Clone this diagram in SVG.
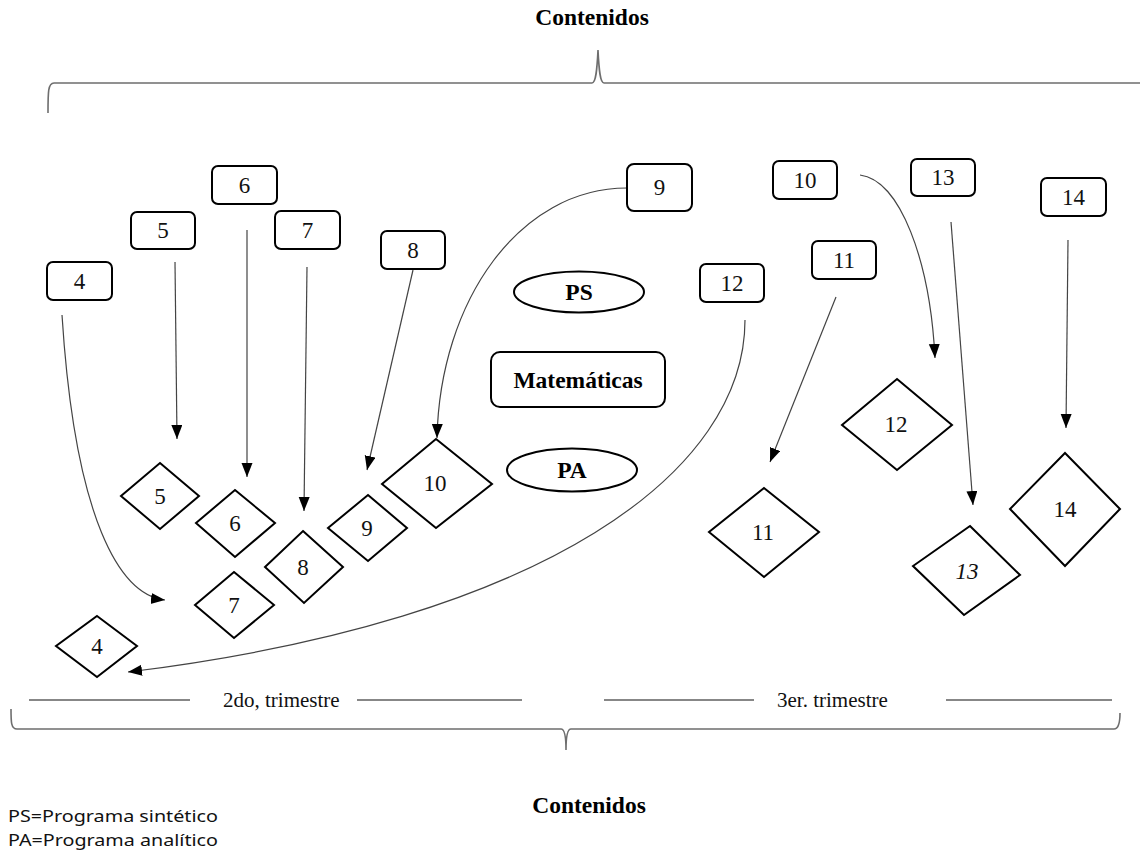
<svg xmlns="http://www.w3.org/2000/svg" width="1140" height="854" viewBox="0 0 1140 854">
  <style>
    .bg { fill: #ffffff; }
    .box { fill: #ffffff; stroke: #000000; stroke-width: 2; }
    .dia { fill: #ffffff; stroke: #000000; stroke-width: 2; }
    .num { font-family: "Liberation Serif", "Times New Roman", serif; font-size: 23px; fill: #111111; text-anchor: middle; }
    .bold { font-family: "Liberation Serif", "Times New Roman", serif; font-size: 23.5px; font-weight: bold; fill: #000000; text-anchor: middle; }
    .plain { font-family: "Liberation Serif", "Times New Roman", serif; font-size: 21px; fill: #111111; }
    .legend { font-family: "Noto Sans", "Open Sans", sans-serif; font-size: 16.5px; fill: #111111; }
    .link { fill: none; stroke: #444444; stroke-width: 1.2; }
    .brace { fill: none; stroke: #6e6e6e; stroke-width: 1.6; }
    .rule { stroke: #111111; stroke-width: 1.2; }
  </style>
  <defs>
    <marker id="arrow" markerUnits="userSpaceOnUse" markerWidth="16" markerHeight="12" refX="14" refY="5.5" orient="auto">
      <path d="M0,0 L14,5.5 L0,11 z" fill="#000000"/>
    </marker>
  </defs>

  <rect class="bg" x="0" y="0" width="1140" height="854"/>

  <!-- header and top brace -->
  <text class="bold" x="592" y="25">Contenidos</text>
  <path class="brace" d="M48,113 C48,92 48,83 54,83 L592,83 C596,83 597,70 598,50 C599,70 600,83 604,83 L1140,83"/>

  <!-- connectors -->
  <g id="connectors">
    <path class="link" d="M62,315 C75,520 120,595 165,600" marker-end="url(#arrow)"/>
    <path class="link" d="M175,262 L177,439" marker-end="url(#arrow)"/>
    <path class="link" d="M247,230 L247,477" marker-end="url(#arrow)"/>
    <path class="link" d="M307,267 L304,511" marker-end="url(#arrow)"/>
    <path class="link" d="M413,270 L367,470" marker-end="url(#arrow)"/>
    <path class="link" d="M627,188 C520,188 440,300 437,438" marker-end="url(#arrow)"/>
    <path class="link" d="M860,175 C900,180 930,260 935,358" marker-end="url(#arrow)"/>
    <path class="link" d="M836,297 L770,462" marker-end="url(#arrow)"/>
    <path class="link" d="M745,320 C745,470 550,620 128,672" marker-end="url(#arrow)"/>
    <path class="link" d="M951,222 L973,505" marker-end="url(#arrow)"/>
    <path class="link" d="M1068,240 L1066,428" marker-end="url(#arrow)"/>
  </g>

  <!-- source boxes -->
  <g id="box4"><rect class="box" x="47" y="262" width="65" height="38" rx="6"/><text class="num" x="79.5" y="289">4</text></g>
  <g id="box5"><rect class="box" x="131" y="212" width="64" height="37" rx="6"/><text class="num" x="163" y="238">5</text></g>
  <g id="box6"><rect class="box" x="212" y="166" width="65" height="38" rx="6"/><text class="num" x="244.5" y="193">6</text></g>
  <g id="box7"><rect class="box" x="275" y="211" width="65" height="38" rx="6"/><text class="num" x="307.5" y="238">7</text></g>
  <g id="box8"><rect class="box" x="381" y="231" width="64" height="38" rx="6"/><text class="num" x="413" y="258">8</text></g>
  <g id="box9"><rect class="box" x="627" y="164" width="65" height="47" rx="7"/><text class="num" x="659.5" y="195">9</text></g>
  <g id="box10"><rect class="box" x="773" y="161" width="64" height="38" rx="6"/><text class="num" x="805" y="188">10</text></g>
  <g id="box11"><rect class="box" x="812" y="241" width="64" height="38" rx="6"/><text class="num" x="844" y="268">11</text></g>
  <g id="box12"><rect class="box" x="700" y="264" width="64" height="38" rx="6"/><text class="num" x="732" y="291">12</text></g>
  <g id="box13"><rect class="box" x="911" y="159" width="64" height="37" rx="6"/><text class="num" x="943" y="185">13</text></g>
  <g id="box14"><rect class="box" x="1041" y="178" width="65" height="38" rx="6"/><text class="num" x="1073.5" y="205">14</text></g>

  <!-- central labels -->
  <g id="ps"><ellipse class="box" cx="579" cy="292" rx="65" ry="20.5"/><text class="bold" x="579" y="300">PS</text></g>
  <g id="matematicas"><rect class="box" x="491" y="352" width="174" height="55" rx="9"/><text class="bold" x="578" y="388">Matemáticas</text></g>
  <g id="pa"><ellipse class="box" cx="572" cy="470" rx="65" ry="21.5"/><text class="bold" x="572" y="478">PA</text></g>

  <!-- target diamonds -->
  <g id="dia4"><polygon class="dia" points="97,616 137,646 97,677 56,646"/><text class="num" x="97" y="654">4</text></g>
  <g id="dia5"><polygon class="dia" points="160,463 199,496 160,529 121,496"/><text class="num" x="160" y="504">5</text></g>
  <g id="dia6"><polygon class="dia" points="235,490 275,523 235,557 196,523"/><text class="num" x="235" y="531">6</text></g>
  <g id="dia7"><polygon class="dia" points="234,572 274,605 234,638 195,605"/><text class="num" x="234" y="613">7</text></g>
  <g id="dia8"><polygon class="dia" points="303,531 343,567 304,603 265,567"/><text class="num" x="303" y="575">8</text></g>
  <g id="dia9"><polygon class="dia" points="368,495 407,528 368,561 328,528"/><text class="num" x="367" y="536">9</text></g>
  <g id="dia10"><polygon class="dia" points="436,439 492,484 436,528 382,484"/><text class="num" x="435" y="491">10</text></g>
  <g id="dia11"><polygon class="dia" points="764,488 819,532 764,577 709,532"/><text class="num" x="763" y="540">11</text></g>
  <g id="dia12"><polygon class="dia" points="897,379 952,425 897,470 842,425"/><text class="num" x="896" y="432">12</text></g>
  <g id="dia13"><polygon class="dia" points="970,526 1020,575 964,615 913,566"/><text class="num" x="967" y="579" font-style="italic">13</text></g>
  <g id="dia14"><polygon class="dia" points="1065,453 1120,509 1065,566 1010,509"/><text class="num" x="1065" y="517">14</text></g>

  <!-- term timeline -->
  <line class="rule" x1="29" y1="700" x2="190" y2="700"/>
  <text class="plain" x="223" y="707">2do, trimestre</text>
  <line class="rule" x1="357" y1="700" x2="522" y2="700"/>
  <line class="rule" x1="604" y1="700" x2="754" y2="700"/>
  <text class="plain" x="777" y="707">3er. trimestre</text>
  <line class="rule" x1="946" y1="700" x2="1112" y2="700"/>

  <!-- bottom brace -->
  <path class="brace" d="M11,709 C11,722 11,729 17,729 L561,729 C565,729 566,738 566,750 C566,738 567,729 571,729 L1114,729 C1119,729 1120,722 1120,713"/>

  <!-- footer -->
  <text class="bold" x="589" y="813">Contenidos</text>
  <text class="legend" x="8" y="822" textLength="210" lengthAdjust="spacingAndGlyphs">PS=Programa sintético</text>
  <text class="legend" x="8" y="846" textLength="210" lengthAdjust="spacingAndGlyphs">PA=Programa analítico</text>
</svg>
